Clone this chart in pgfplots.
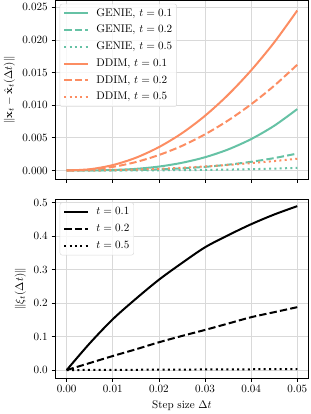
\documentclass[border=0pt]{standalone}
\usepackage{pgfplots}
\pgfplotsset{compat=1.18}
\definecolor{genie}{HTML}{66C2A5}
\definecolor{ddim}{HTML}{FC8D62}
\pgfplotsset{
  common/.style={
    scale only axis, width=228.6pt, height=161pt,
    xmin=-0.0025, xmax=0.0525,
    xtick={0,0.01,0.02,0.03,0.04,0.05},
    tick align=outside, major tick length=3.2pt,
    xtick pos=bottom, ytick pos=left,
    grid=major, major grid style={gray!30, line width=0.7pt},
    axis line style={line width=0.75pt},
    tick style={black, line width=0.7pt},
    scaled ticks=false,
    legend cell align=left,
  },
  mylegend/.style={
    legend style={draw=gray!30, rounded corners=2pt, fill=white, fill opacity=0.8, text opacity=1,
      font=\fontsize{10}{12}\selectfont, row sep=4.1pt, inner sep=3pt,
      at={(0.018,0.983)}, anchor=north west,
      nodes={inner xsep=1pt, inner ysep=1pt, text height=7pt, text depth=2pt},
      /tikz/every odd column/.append style={column sep=6pt}},
  },
  ln/.style={line width=1.8pt, smooth, no marks},
  dashedsty/.style={dash pattern=on 6.6pt off 2.9pt},
  dottedsty/.style={dash pattern=on 1.8pt off 3.0pt},
  legend image code/.code={\draw[#1] (0pt,0pt) -- (21pt,0pt);},
}
\begin{document}
\begin{tikzpicture}
\begin{axis}[common, mylegend, at={(0,179.1pt)},
  ymin=-0.00136, ymax=0.026,
  ytick={0,0.005,0.01,0.015,0.02,0.025},
  yticklabel style={/pgf/number format/.cd, fixed, fixed zerofill, precision=3},
  xticklabels={},
  ylabel={$\|\mathbf{x}_t - \hat{\mathbf{x}}_t(\Delta t)\|$},
]
\addplot[genie, ln] coordinates {(0,0) (0.005,0.00001) (0.01,0.00008) (0.015,0.00025) (0.02,0.0006) (0.025,0.00118) (0.03,0.00203) (0.035,0.00322) (0.04,0.00481) (0.045,0.00685) (0.05,0.0094)};
\addlegendentry{GENIE, $t = 0.1$}
\addplot[genie, ln, dashedsty] coordinates {(0,0) (0.005,0.000003) (0.01,0.00002) (0.015,0.00007) (0.02,0.00017) (0.025,0.00033) (0.03,0.00056) (0.035,0.00089) (0.04,0.00133) (0.045,0.0019) (0.05,0.0026)};
\addlegendentry{GENIE, $t = 0.2$}
\addplot[genie, ln, dottedsty] coordinates {(0,0) (0.005,0) (0.01,0.000003) (0.015,0.00001) (0.02,0.00003) (0.025,0.00005) (0.03,0.00009) (0.035,0.00014) (0.04,0.0002) (0.045,0.00029) (0.05,0.0004)};
\addlegendentry{GENIE, $t = 0.5$}
\addplot[ddim, ln] coordinates {(0,0) (0.005,0.00019) (0.01,0.00083) (0.015,0.00195) (0.02,0.00358) (0.025,0.00571) (0.03,0.00838) (0.035,0.01159) (0.04,0.01534) (0.045,0.01962) (0.05,0.0245)};
\addlegendentry{DDIM, $t = 0.1$}
\addplot[ddim, ln, dashedsty] coordinates {(0,0) (0.005,0.00013) (0.01,0.00055) (0.015,0.00129) (0.02,0.00237) (0.025,0.00377) (0.03,0.00554) (0.035,0.00766) (0.04,0.01014) (0.045,0.01298) (0.05,0.0162)};
\addlegendentry{DDIM, $t = 0.2$}
\addplot[ddim, ln, dottedsty] coordinates {(0,0) (0.005,0.00001) (0.01,0.00006) (0.015,0.00014) (0.02,0.00026) (0.025,0.00042) (0.03,0.00062) (0.035,0.00085) (0.04,0.00113) (0.045,0.00144) (0.05,0.0018)};
\addlegendentry{DDIM, $t = 0.5$}
\end{axis}
\begin{axis}[common, mylegend, at={(0,0)},
  ymin=-0.024, ymax=0.51,
  ytick={0,0.1,0.2,0.3,0.4,0.5},
  yticklabel style={/pgf/number format/.cd, fixed, fixed zerofill, precision=1},
  xticklabel style={/pgf/number format/.cd, fixed, fixed zerofill, precision=2},
  xlabel={Step size $\Delta t$},
  ylabel={$\|\xi_t(\Delta t)\|$},
]
\addplot[black, ln] coordinates {(0,0) (0.005,0.08) (0.01,0.152) (0.015,0.213) (0.02,0.27) (0.025,0.32) (0.03,0.367) (0.035,0.403) (0.04,0.436) (0.045,0.465) (0.05,0.49)};
\addlegendentry{$t = 0.1$}
\addplot[black, ln, dashedsty] coordinates {(0,0) (0.005,0.021) (0.01,0.042) (0.015,0.062) (0.02,0.083) (0.025,0.102) (0.03,0.12) (0.035,0.139) (0.04,0.158) (0.045,0.173) (0.05,0.188)};
\addlegendentry{$t = 0.2$}
\addplot[black, ln, dottedsty] coordinates {(0,0) (0.005,0.0003) (0.01,0.0006) (0.015,0.0009) (0.02,0.0012) (0.025,0.0015) (0.03,0.0018) (0.035,0.0021) (0.04,0.0024) (0.045,0.0027) (0.05,0.003)};
\addlegendentry{$t = 0.5$}
\end{axis}
\end{tikzpicture}
\end{document}
